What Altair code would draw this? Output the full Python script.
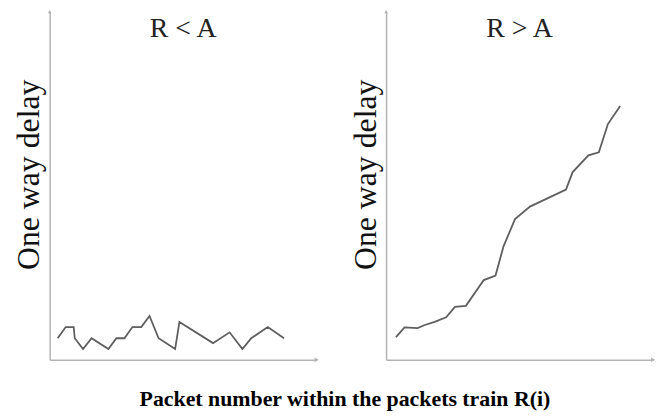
import altair as alt
import pandas as pd

# ---- data ----
left_x = [3, 6, 9, 9.4, 12.5, 15.7, 22, 25, 28, 31, 34.3, 37.4, 40.8, 47, 48.6, 61.2, 67.4, 72.2, 75.5, 81.7, 87.8]
left_y = [6.2, 9.4, 9.4, 6.2, 3.1, 6.2, 3.1, 6.2, 6.2, 9.4, 9.4, 12.6, 6.2, 3.1, 10.9, 4.8, 7.9, 3.1, 6.2, 9.4, 6.2]

right_x = [3.7, 6.9, 11.8, 14.5, 18.2, 22.5, 25.8, 29.9, 36.6, 41, 44, 48.3, 53.9, 67.4, 69.9, 75.8, 79.7, 83.1, 87.7]
right_y = [6.5, 9.3, 9.1, 10, 10.9, 12.2, 15.2, 15.5, 22.9, 24.2, 32.6, 40.4, 44, 48.9, 53.9, 58.7, 59.6, 67.7, 72.9]

panel_titles = ["R < A", "R > A"]
y_title = "One way delay"
x_title = "Packet number within the packets train R(i)"

SERIF = "Liberation Serif"
AXIS_COLOR = "#b3b3b3"
LINE_COLOR = "#5e5e5e"


def panel(xs, ys, title):
    df = pd.DataFrame({"x": xs, "y": ys})
    xs_ = alt.Scale(domain=[0, 100], nice=False, zero=False)
    ys_ = alt.Scale(domain=[0, 100], nice=False, zero=False)
    line = alt.Chart(df).mark_line(color=LINE_COLOR, strokeWidth=1.8).encode(
        x=alt.X("x:Q", scale=xs_,
                axis=alt.Axis(title=None, labels=False, ticks=False, grid=False,
                              domainColor=AXIS_COLOR, domainWidth=1.5)),
        y=alt.Y("y:Q", scale=ys_,
                axis=alt.Axis(title=y_title, labels=False, ticks=False, grid=False,
                              domainColor=AXIS_COLOR, domainWidth=1.5,
                              titleFont=SERIF, titleFontSize=32,
                              titleFontWeight="normal", titleColor="#111111",
                              titlePadding=4, titleY=164)),
    )
    xarrow = alt.Chart().mark_point(shape="triangle-right", filled=True, size=22,
                                    color=AXIS_COLOR, opacity=1).encode(
        x=alt.datum(100, scale=xs_), y=alt.datum(0, scale=ys_))
    yarrow = alt.Chart().mark_point(shape="triangle-up", filled=True, size=14,
                                    color=AXIS_COLOR, opacity=1).encode(
        x=alt.datum(0, scale=xs_), y=alt.datum(100, scale=ys_))
    return alt.layer(line, xarrow, yarrow).properties(
        width=269, height=351,
        title=alt.TitleParams(title, font=SERIF, fontSize=28, fontWeight="normal",
                              color="#222222", offset=-33, anchor="middle"),
    )


chart = alt.hconcat(
    panel(left_x, left_y, panel_titles[0]),
    panel(right_x, right_y, panel_titles[1]),
    spacing=30,
).properties(
    padding={"left": 5, "top": 0, "right": 0, "bottom": 0},
    title=alt.TitleParams(x_title, orient="bottom", font=SERIF, fontSize=22,
                          fontWeight="bold", color="#000000", anchor="middle",
                          offset=27, dx=11),
).configure_view(stroke=None)

chart.save("out.html", embed_options={"renderer": "svg", "actions": False})
